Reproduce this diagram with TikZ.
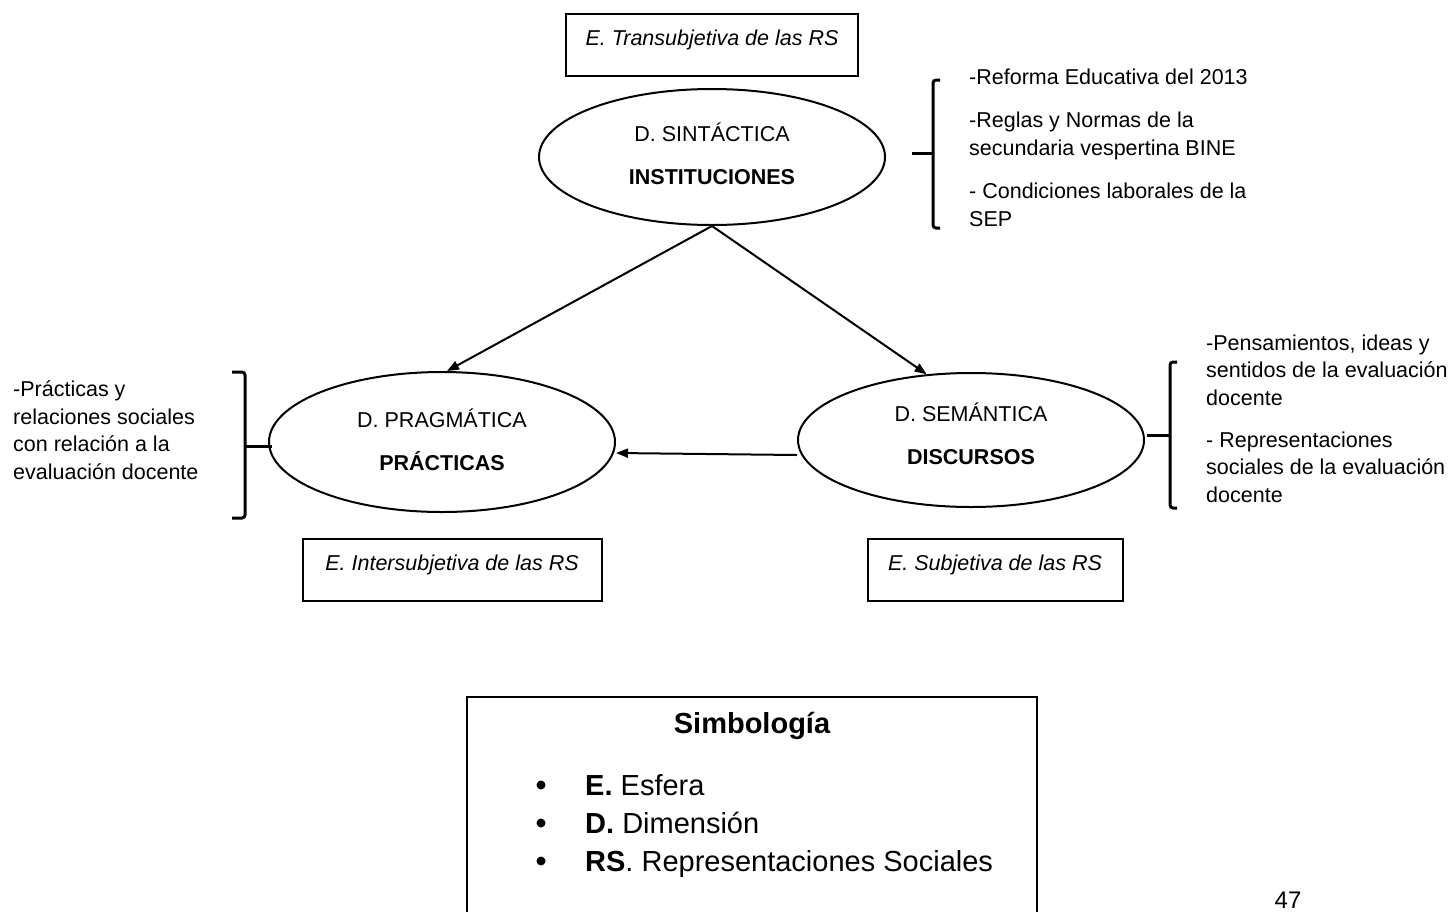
\documentclass[tikz,border=0pt]{standalone}
\usepackage{fontspec}
\setmainfont{Liberation Sans}
\usetikzlibrary{shapes.geometric,arrows.meta}

\begin{document}
\begin{tikzpicture}[x=1pt,y=-1pt,
	dim/.style={draw,ellipse,line width=2pt,minimum width=346pt,minimum height=136pt,inner sep=0pt,align=center,font=\fontsize{21.5}{43}\selectfont},
	esfera/.style={draw,line width=2pt,anchor=north,inner ysep=0pt,text height=31pt,text depth=31pt,font=\fontsize{21.5}{24}\selectfont\itshape},
	nota/.style={anchor=base west,align=left,inner sep=0pt,font=\fontsize{21.5}{27.5}\selectfont},
	llave/.style={line width=3pt,rounded corners=3pt},
	flecha/.style={line width=2pt,-{Triangle[length=12pt,width=9pt]}}]
	\useasboundingbox (0,0) rectangle (1453,911);
	% esferas
	\node[esfera,minimum width=292pt] (trans) at (712,13) {E. Transubjetiva de las RS};
	\node[esfera,minimum width=299pt] (inter) at (452,538) {E. Intersubjetiva de las RS};
	\node[esfera,minimum width=255pt] (subj) at (995,538) {E. Subjetiva de las RS};
	% dimensiones
	\node[dim,text depth=7pt] (sint) at (712,157) {D. SINTÁCTICA\\\textbf{INSTITUCIONES}};
	\node[dim,text depth=5pt,minimum height=140pt] (prag) at (442,442) {D. PRAGMÁTICA\\\textbf{PRÁCTICAS}};
	\node[dim,text depth=13pt,minimum height=134pt] (sem) at (971,440) {D. SEMÁNTICA\\\textbf{DISCURSOS}};
	\draw[flecha] (sint.south) -- (prag.86);
	\draw[flecha] (sint.south) -- (sem.124);
	\draw[flecha] ([yshift=-15pt]sem.west) -- ([yshift=-11pt]prag.east);
	% llaves
	\draw[llave] (940,80) -- (933,80) -- (933,228) -- (940,228);
	\draw[llave] (912,153) -- (933,153);
	\draw[llave] (232,372) -- (245,372) -- (245,518) -- (232,518);
	\draw[llave] (245,446) -- (272,446);
	\draw[llave] (1177,362) -- (1170,362) -- (1170,508) -- (1177,508);
	\draw[llave] (1147,435) -- (1170,435);
	% notas (base = ultima linea)
	\node[nota] (n1) at (969,84) {-Reforma Educativa del 2013};
	\node[nota] (n2) at (969,155) {-Reglas y Normas de la\\secundaria vespertina BINE};
	\node[nota] (n3) at (969,226) {- Condiciones laborales de la\\SEP};
	\node[nota] (n4) at (13,479) {-Prácticas y\\relaciones sociales\\con relación a la\\evaluación docente};
	\node[nota] (n5) at (1206,405) {-Pensamientos, ideas y\\sentidos de la evaluación\\docente};
	\node[nota] (n6) at (1206,502) {- Representaciones\\sociales de la evaluación\\docente};
	% simbologia
	\draw[line width=2pt] (467,697) rectangle (1037,940);
	\node[font=\fontsize{29}{32}\selectfont\bfseries] (simb) at (752,726) {Simbología};
	\foreach \y/\t in {795/{\textbf{E.} Esfera},833/{\textbf{D.} Dimensión},871/{\textbf{RS}. Representaciones Sociales}}
		{\fill (541,\y-10) circle (4.5pt);
		 \node[anchor=base west,inner sep=0pt,font=\fontsize{29}{32}\selectfont] at (585,\y) {\t};
		};
	\node[anchor=base,inner sep=0pt,font=\fontsize{24}{28}\selectfont] (pag) at (1288,908) {47};
\end{tikzpicture}
\end{document}
